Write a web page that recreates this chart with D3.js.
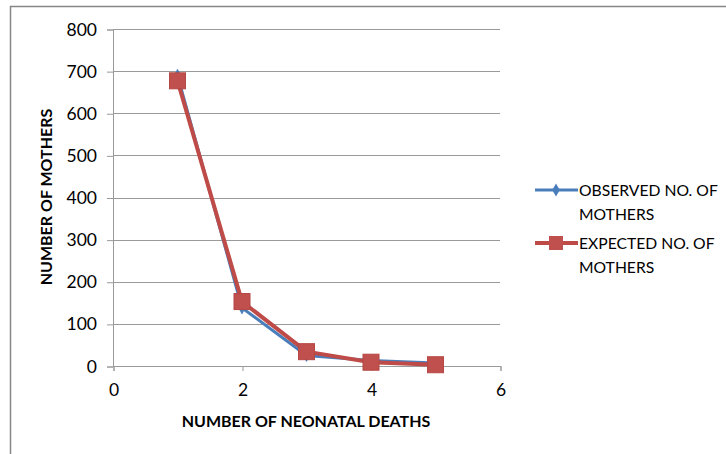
<!DOCTYPE html>
<html><head><meta charset="utf-8">
<script src="https://cdn.jsdelivr.net/npm/d3@7"></script>
<style>body{margin:0;background:#fff}svg{display:block}text{font-family:Lato,"Open Sans",sans-serif;fill:#000}</style>
</head><body><svg id="c" width="726" height="454"></svg>
<script>
const deaths = [1, 2, 3, 4, 5];
const observed = [690, 138, 25, 13, 7];
const expected = [677, 153, 34, 9, 3];
const yTicks = [0, 100, 200, 300, 400, 500, 600, 700, 800];
const xTicks = [0, 2, 4, 6];
const seriesNames = ["OBSERVED NO. OF|MOTHERS", "EXPECTED NO. OF|MOTHERS"];

const svg = d3.select("#c");
const x = d3.scaleLinear().domain([0, 6]).range([113, 500]);
const y = d3.scaleLinear().domain([0, 800]).range([366, 29]);

// outer border
svg.append("path").attr("d", "M10.5,460 V6.5 H730").attr("fill", "none").attr("stroke", "#868686").attr("stroke-width", 1.5);

// gridlines
svg.append("g").selectAll("line").data(yTicks.filter(d => d > 0)).join("line")
  .attr("x1", x(0)).attr("x2", x(6)).attr("y1", d => Math.round(y(d)) + 0.5).attr("y2", d => Math.round(y(d)) + 0.5)
  .attr("stroke", "#9a9a9a").attr("stroke-width", 1);

// y axis
const ya = svg.append("g").attr("transform", `translate(${x(0)},0.5)`)
  .call(d3.axisLeft(y).tickValues(yTicks).tickSize(6).tickPadding(10).tickFormat(d3.format("d")));
ya.select(".domain").attr("stroke", "#9a9a9a");
ya.selectAll(".tick line").attr("stroke", "#9a9a9a");
ya.selectAll("text").style("font-size", "17.5px").attr("fill", "#000");

// x axis
const xa = svg.append("g").attr("transform", `translate(0.5,${y(0)})`)
  .call(d3.axisBottom(x).tickValues(xTicks).tickSize(5).tickPadding(13).tickFormat(d3.format("d")));
xa.select(".domain").attr("stroke", "#9a9a9a");
xa.selectAll(".tick line").attr("stroke", "#9a9a9a");
xa.selectAll("text").style("font-size", "17.5px").attr("fill", "#000");

// titles
svg.append("text").attr("x", 306).attr("y", 427).attr("text-anchor", "middle")
  .style("font-size", "16px").style("font-weight", "bold").text("NUMBER OF NEONATAL DEATHS");
svg.append("text").attr("transform", "translate(52,197) rotate(-90)").attr("text-anchor", "middle")
  .style("font-size", "16px").style("font-weight", "bold").text("NUMBER OF MOTHERS");

const line = d3.line().x((d, i) => x(deaths[i])).y(d => y(d));

// observed series
const blue = "#4a7ebb", red = "#be4b48";
svg.append("path").datum(observed).attr("d", line).attr("fill", "none").attr("stroke", blue).attr("stroke-width", 3);
const diamond = d3.symbol().type(d3.symbolDiamond).size(50);
svg.append("g").selectAll("path").data(observed).join("path")
  .attr("transform", (d, i) => `translate(${x(deaths[i])},${y(d)})`).attr("d", diamond).attr("fill", blue);

// expected series
svg.append("path").datum(expected).attr("d", line).attr("fill", "none").attr("stroke", red).attr("stroke-width", 4);
svg.append("g").selectAll("rect").data(expected).join("rect")
  .attr("x", (d, i) => x(deaths[i]) - 8).attr("y", d => y(d) - 8).attr("width", 16).attr("height", 16)
  .attr("fill", "#c0504d").attr("stroke", "#b54744").attr("stroke-width", 1);

// legend
const leg = [{c: blue, t: seriesNames[0], y: 190, m: "d"}, {c: red, t: seriesNames[1], y: 243, m: "s"}];
leg.forEach(l => {
  svg.append("line").attr("x1", 535).attr("x2", 578).attr("y1", l.y).attr("y2", l.y).attr("stroke", l.c).attr("stroke-width", l.m === "d" ? 3 : 4);
  if (l.m === "d") svg.append("path").attr("transform", `translate(556,${l.y})`).attr("d", diamond).attr("fill", l.c);
  else svg.append("rect").attr("x", 549).attr("y", l.y - 7).attr("width", 14).attr("height", 14).attr("fill", "#c0504d");
  const parts = l.t.split("|");
  parts.forEach((p, k) => svg.append("text").attr("x", 579).attr("y", l.y + 6 + k * 24).style("font-size", "15.7px").text(p));
});
</script></body></html>
